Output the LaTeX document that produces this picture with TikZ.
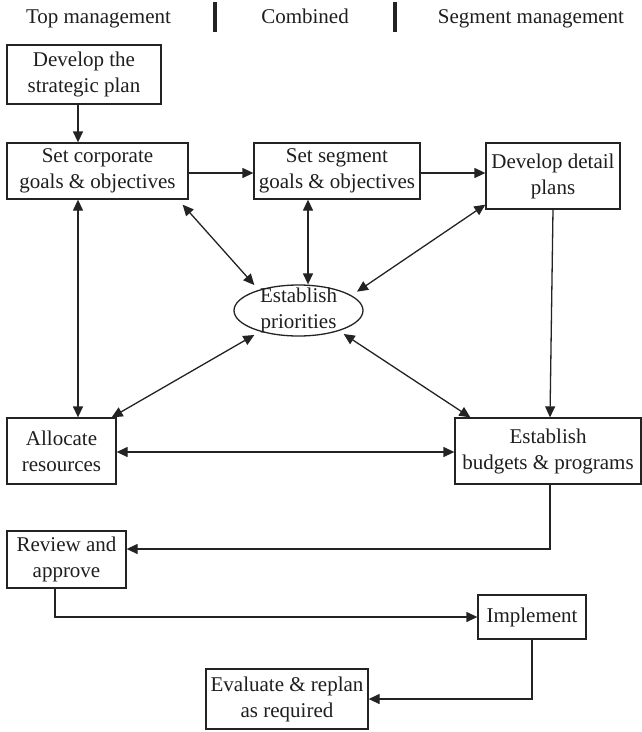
\documentclass[tikz,border=0pt]{standalone}
\usepackage{fontspec}
\setmainfont{Liberation Serif}
\usetikzlibrary{arrows.meta,calc,shapes.geometric}
\definecolor{linecol}{RGB}{35,35,35}
\definecolor{textcol}{RGB}{30,30,30}
\begin{document}
\begin{tikzpicture}[x=1pt,y=-1pt,
  every node/.style={font=\fontsize{21}{26}\selectfont, text=textcol},
  box/.style={draw=linecol, line width=1.3pt, inner sep=0pt, align=center},
  hdr/.style={anchor=base, inner sep=0pt},
  bar/.style={draw=linecol, line width=3.2pt},
  tip/.tip={Triangle[length=11pt,width=10pt]},
  arr/.style={draw=linecol, line width=1.3pt, -tip},
  biarr/.style={draw=linecol, line width=1.3pt, tip-tip}]
\useasboundingbox (0,0) rectangle (642,732);

% header
\node[hdr] (h1) at (98.5,23) {Top management};
\node[hdr] (h2) at (305,23) {Combined};
\node[hdr] (h3) at (531,23) {Segment management};
\draw[bar] (215,2) -- (215,32);
\draw[bar] (395,2) -- (395,32);

% boxes
\node[box, minimum width=154pt, minimum height=59pt] (strat) at (84,74.5) {Develop the\\strategic plan};
\node[box, minimum width=181pt, minimum height=56pt] (corp) at (97.5,171) {Set corporate\\goals \& objectives};
\node[box, minimum width=166pt, minimum height=56pt] (seg) at (337,171) {Set segment\\goals \& objectives};
\node[box, minimum width=134pt, minimum height=66pt] (det) at (553,176) {Develop detail\\plans};
\node[box, ellipse, minimum width=129pt, minimum height=51pt, inner xsep=0pt, inner ysep=-6pt] (pri) at (298.5,310.5) {Establish\\priorities};
\node[box, minimum width=109pt, minimum height=66pt] (alloc) at (61.5,451) {Allocate\\resources};
\node[box, minimum width=186pt, minimum height=66pt] (budg) at (548,451) {Establish\\budgets \& programs};
\node[box, minimum width=119pt, minimum height=57pt] (rev) at (66.5,559.5) {Review and\\approve};
\node[box, minimum width=108pt, minimum height=44pt] (impl) at (532,617) {Implement};
\node[box, minimum width=162pt, minimum height=60pt] (eval) at (287,699) {Evaluate \& replan\\as required};

% helper coordinates
\coordinate (v78) at (78,0);
\coordinate (v308) at (308,0);
\coordinate (v553) at (553,0);
\coordinate (v550) at (550,0);
\coordinate (v55) at (55,0);
\coordinate (h173) at (0,173);
\coordinate (h452) at (0,452);
\coordinate (h549) at (0,549);

% connectors
\draw[arr] (strat.south -| v78) -- (corp.north -| v78);
\draw[arr] (corp.east |- h173) -- (seg.west |- h173);
\draw[arr] (seg.east |- h173) -- (det.west |- h173);
\draw[biarr] ($(corp.south east)+(-6,5)$) -- ($(pri.150)+(-7,-4)$);
\draw[biarr] (seg.south -| v308) -- (pri.north -| v308);
\draw[biarr] ($(det.south west)+(0,-5)$) -- ($(pri.25)+(16,1)$);
\draw[biarr] (corp.south -| v78) -- (alloc.north -| v78);
\draw[biarr] ($(pri.210)+(-7,3)$) -- ($(alloc.north east)+(-5,0)$);
\draw[biarr] ($(pri.330)+(8,2)$) -- ($(budg.north west)+(16,0)$);
\draw[arr] (det.south -| v553) -- ($(budg.north)+(2,0)$);
\draw[biarr] (alloc.east |- h452) -- (budg.west |- h452);
\draw[arr] (budg.south -| v550) |- (rev.east |- h549);
\draw[arr] (rev.south -| v55) |- (impl.west);
\draw[arr] (impl.south) |- (eval.east);
\end{tikzpicture}
\end{document}
